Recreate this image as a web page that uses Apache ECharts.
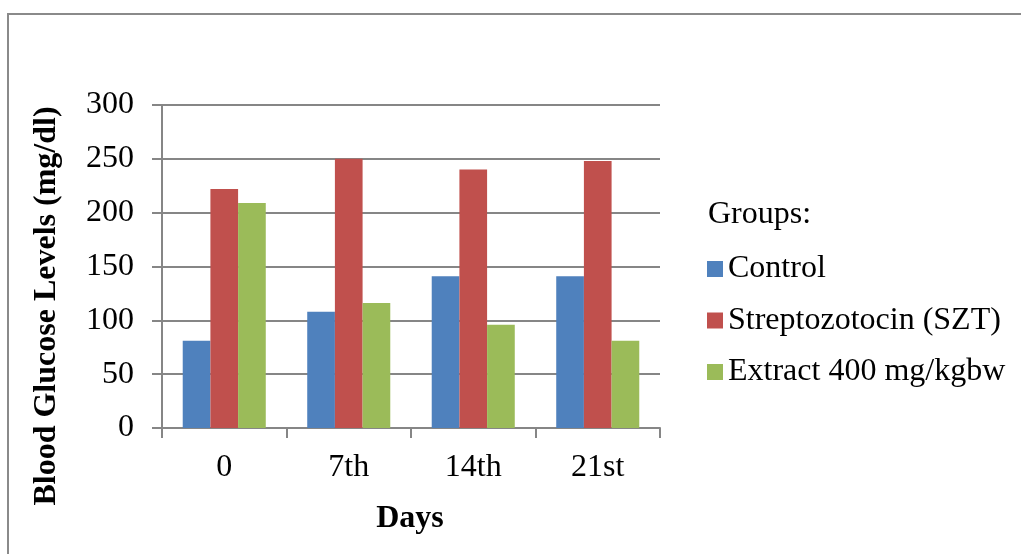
<!DOCTYPE html>
<html>
<head>
<meta charset="utf-8">
<script src="https://cdn.jsdelivr.net/npm/echarts@6/dist/echarts.min.js"></script>
<style>
html,body{margin:0;padding:0;background:#fff;}
#chart{width:1021px;height:554px;}
</style>
</head>
<body>
<div id="chart"></div>
<script>
const categories = ['0', '7th', '14th', '21st'];
const controlValues = [81, 108, 141, 141];
const sztValues = [222, 250, 240, 248];
const extractValues = [209, 116, 96, 81];
const seriesNames = ['Control', 'Streptozotocin (SZT)', 'Extract 400 mg/kgbw'];
const yTicks = { min: 0, max: 300, interval: 50 };

const FONT = 'Liberation Serif';
const chart = echarts.init(document.getElementById('chart'), null, { renderer: 'canvas' });
const axisGray = '#868686';

const option = {
  backgroundColor: '#ffffff',
  animation: false,
  grid: { left: 162, right: 361, top: 105, bottom: 126, containLabel: false },
  legend: {
    orient: 'vertical',
    left: 707,
    top: 253,
    padding: 0,
    itemWidth: 16,
    itemHeight: 16,
    itemGap: 19.5,
    icon: 'rect',
    textStyle: { fontFamily: FONT, fontSize: 32, color: '#000', lineHeight: 32 },
    data: seriesNames
  },
  graphic: [
    {
      type: 'rect', silent: true, z: -1,
      shape: { x: 8, y: 14, width: 1040, height: 600 },
      style: { fill: 'none', stroke: '#8a8a8a', lineWidth: 2 }
    },
    {
      type: 'text', left: 708, top: 199,
      style: { text: 'Groups:', font: '32px "Liberation Serif"', fill: '#000' }
    },
    {
      type: 'text', x: 47, y: 306, rotation: Math.PI / 2,
      style: { text: 'Blood Glucose Levels (mg/dl)', font: 'bold 32px "Liberation Serif"', fill: '#000', align: 'center', verticalAlign: 'middle' }
    },
    {
      type: 'text', x: 410, y: 519,
      style: { text: 'Days', font: 'bold 32px "Liberation Serif"', fill: '#000', align: 'center', verticalAlign: 'middle' }
    }
  ],
  xAxis: {
    type: 'category',
    data: categories,
    axisLine: { lineStyle: { color: axisGray, width: 2 } },
    axisTick: { show: true, length: 10, lineStyle: { color: axisGray, width: 2 } },
    axisLabel: { fontFamily: FONT, fontSize: 32, color: '#000', margin: 24 },
    splitLine: { show: false }
  },
  yAxis: {
    type: 'value',
    min: yTicks.min, max: yTicks.max, interval: yTicks.interval,
    axisLine: { show: true, lineStyle: { color: axisGray, width: 2 } },
    axisTick: { show: true, length: 10, lineStyle: { color: axisGray, width: 2 } },
    axisLabel: { fontFamily: FONT, fontSize: 32, color: '#000', margin: 28 },
    splitLine: { show: true, lineStyle: { color: axisGray, width: 2 } }
  },
  series: [
    { name: seriesNames[0], type: 'bar', data: controlValues, barGap: '0%', barCategoryGap: '33.3%', itemStyle: { color: '#4F81BD' } },
    { name: seriesNames[1], type: 'bar', data: sztValues, barGap: '0%', barCategoryGap: '33.3%', itemStyle: { color: '#C0504D' } },
    { name: seriesNames[2], type: 'bar', data: extractValues, barGap: '0%', barCategoryGap: '33.3%', itemStyle: { color: '#9BBB59' } }
  ]
};
chart.setOption(option);
</script>
</body>
</html>
